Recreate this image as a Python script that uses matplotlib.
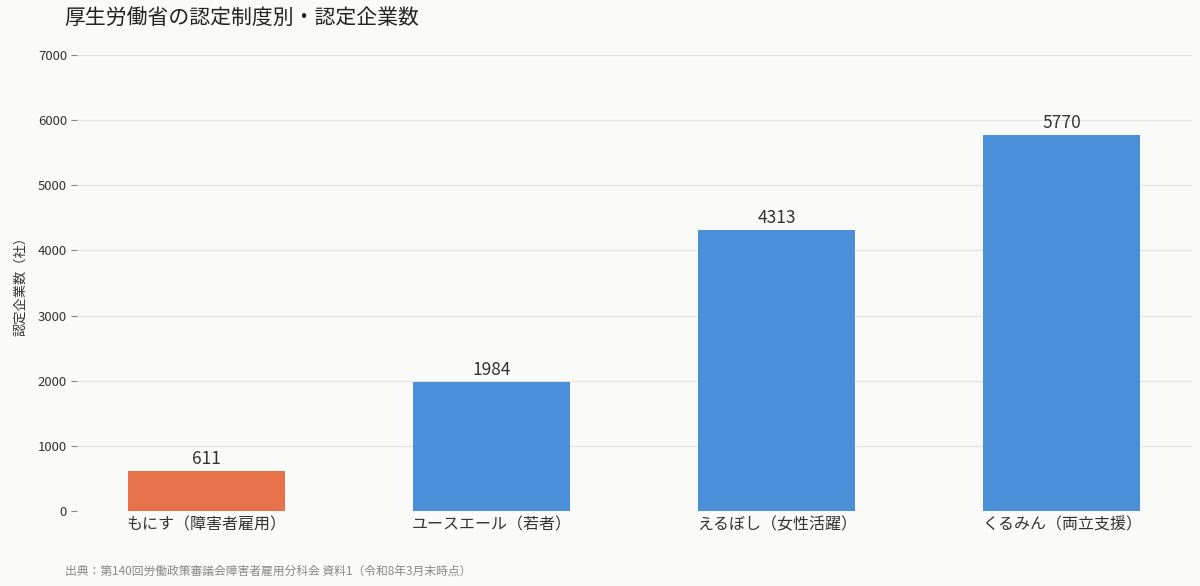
import matplotlib
matplotlib.use("Agg")
import matplotlib.pyplot as plt

plt.rcParams['font.family'] = ['Noto Sans CJK JP', 'DejaVu Sans']

# data
categories = ["もにす（障害者雇用）", "ユースエール（若者）", "えるぼし（女性活躍）", "くるみん（両立支援）"]
counts = [611, 1984, 4313, 5770]
bar_colors = ["#E8734A", "#4A90D9", "#4A90D9", "#4A90D9"]

bg = "#FAFAF8"
fig = plt.figure(figsize=(12, 5.86), dpi=100, facecolor=bg)
ax = fig.add_axes([0.064, 0.128, 0.929, 0.778], facecolor=bg)

x = range(len(categories))
bars = ax.bar(x, counts, width=0.55, color=bar_colors, zorder=3)
ax.bar_label(bars, labels=[str(v) for v in counts], padding=2, fontsize=12.5, color="#333333")

ax.set_xlim(-0.455, 3.455)
ax.set_ylim(0, 7000)
ax.set_yticks(range(0, 7001, 1000))
ax.set_xticks(list(x))
ax.set_xticklabels(categories, fontsize=11.5, color="#333333")
ax.tick_params(axis='x', length=0, pad=4)
ax.tick_params(axis='y', length=4, width=0.8, color="#888888", labelsize=9.5, labelcolor="#333333", pad=3)
ax.grid(axis='y', color="#E3E3E3", linewidth=0.9, zorder=0)
for s in ax.spines.values():
    s.set_visible(False)

ax.set_ylabel("認定企業数（社）", fontsize=9.5, color="#333333", labelpad=8)

fig.text(0.054, 0.968, "厚生労働省の認定制度別・認定企業数", fontsize=15, color="#222222", va='center', ha='left')
fig.text(0.054, 0.025, "出典：第140回労働政策審議会障害者雇用分科会 資料1（令和8年3月末時点）", fontsize=8.5, color="#888888", va='center', ha='left')

fig.savefig("out.png", dpi=100, facecolor=bg)
